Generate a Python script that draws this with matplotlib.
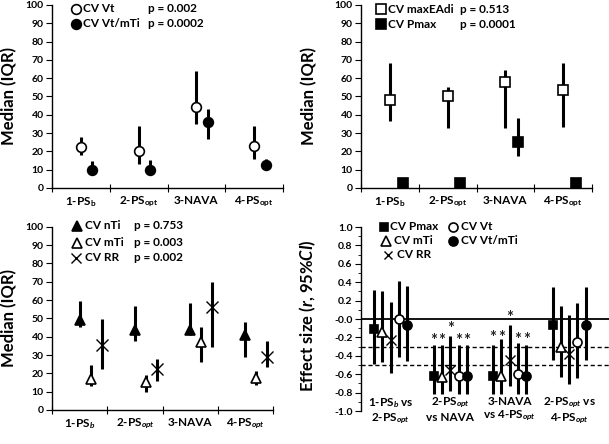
import numpy as np
import matplotlib
matplotlib.use('Agg')
import matplotlib.pyplot as plt
from matplotlib.ticker import FormatStrFormatter, MultipleLocator

plt.rcParams['font.family'] = ['Lato', 'DejaVu Sans']
plt.rcParams['font.weight'] = 'bold'
plt.rcParams['mathtext.fontset'] = 'custom'
plt.rcParams['mathtext.rm'] = 'Lato:bold'
plt.rcParams['mathtext.it'] = 'Lato:italic:bold'
plt.rcParams['mathtext.bf'] = 'Lato:bold'
plt.rcParams['axes.unicode_minus'] = False

# ---- data ----
cats_up = ['1-PS$_{\\mathrm{b}}$', '2-PS$_{\\mathrm{opt}}$', '3-NAVA', '4-PS$_{\\mathrm{opt}}$']
cats_it = ['1-PS$_{b}$', '2-PS$_{opt}$', '3-NAVA', '4-PS$_{opt}$']
cats_es = ['1-PS$_{b}$ vs\n2-PS$_{opt}$', '2-PS$_{opt}$\nvs NAVA',
           '3-NAVA\nvs 4-PS$_{opt}$', '2-PS$_{opt}$ vs\n4-PS$_{opt}$']

# top left: CV Vt, CV Vt/mTi  (median, q1, q3)
vt_med = [22.5, 20, 44, 23]
vt_q1 = [18, 13, 35, 16]
vt_q3 = [28, 34, 64, 34]
vtmti_med = [10, 10, 36, 12.5]
vtmti_q1 = [7.5, 7.5, 26.5, 10]
vtmti_q3 = [15, 15.5, 43, 16]

# top right: CV maxEAdi, CV Pmax
eadi_med = [48, 50, 58, 53.5]
eadi_q1 = [36.5, 33, 33, 33.5]
eadi_q3 = [68.5, 55, 64.5, 68.5]
pmax_med = [2.5, 2.5, 25, 2.5]
pmax_q1 = [2, 2, 17.5, 1.5]
pmax_q3 = [3, 3, 38.5, 5.5]

# bottom left: CV nTi, CV mTi, CV RR
nti_med = [49.3, 43.8, 43.5, 41]
nti_q1 = [45.2, 37.5, 41, 28.7]
nti_q3 = [59.5, 57, 58.4, 47.8]
mti_med = [17, 15.1, 36.9, 17.4]
mti_q1 = [13.3, 9.7, 26.4, 13.6]
mti_q3 = [24.3, 19.3, 45.4, 21.4]
rr_med = [35.2, 22.5, 56, 29]
rr_q1 = [22.5, 16, 34.5, 23.6]
rr_q3 = [49.8, 27.9, 70, 37.4]

# bottom right: effect size r (95% CI)
pmax_r = [-0.11, -0.62, -0.62, -0.07]
pmax_lo = [-0.49, -0.82, -0.82, -0.45]
pmax_hi = [0.32, -0.28, -0.28, 0.35]
mti_r = [-0.14, -0.63, -0.62, -0.30]
mti_lo = [-0.47, -0.82, -0.82, -0.63]
mti_hi = [0.30, -0.28, -0.22, 0.14]
rr_r = [-0.23, -0.55, -0.45, -0.38]
rr_lo = [-0.59, -0.78, -0.73, -0.71]
rr_hi = [0.19, -0.19, -0.07, 0.04]
vt_r = [0.0, -0.62, -0.60, -0.25]
vt_lo = [-0.41, -0.82, -0.82, -0.64]
vt_hi = [0.41, -0.28, -0.26, 0.17]
vtmti_r = [-0.06, -0.62, -0.62, -0.06]
vtmti_lo = [-0.46, -0.82, -0.82, -0.45]
vtmti_hi = [0.36, -0.28, -0.28, 0.35]

# significance stars: comparison, series index, height
star_cmp = [2, 2, 2, 2, 2, 3, 3, 3, 3, 3]
star_series = [0, 1, 2, 3, 4, 0, 1, 2, 3, 4]
star_y = [-0.20, -0.20, -0.07, -0.20, -0.20, -0.17, -0.17, 0.05, -0.19, -0.19]

x = np.arange(1, 5)

fig = plt.figure(figsize=(6.09, 4.44), dpi=100)
ax_tl = fig.add_axes([0.0854, 0.5766, 0.3793, 0.4122])
ax_tr = fig.add_axes([0.5928, 0.5766, 0.3793, 0.4122])
ax_bl = fig.add_axes([0.0854, 0.0766, 0.3629, 0.4128])
ax_br = fig.add_axes([0.5928, 0.0743, 0.4072, 0.4144])


def iqr(ax, xs, med, lo, hi, marker, face, ms, mew=1.2, lw=2.2):
    med = np.array(med)
    ax.errorbar(xs, med, yerr=[med - np.array(lo), np.array(hi) - med],
                fmt=marker, mfc=face, mec='black', color='black', ms=ms, mew=mew,
                ecolor='black', elinewidth=lw, capsize=0, zorder=3, clip_on=False)


def median_axes(ax, labels, ylab_x):
    ax.set_xlim(0.5, 4.5)
    ax.set_ylim(0, 100)
    ax.set_yticks(np.arange(0, 101, 10))
    ax.set_xticks(np.arange(0.5, 4.6, 1))
    ax.set_xticks(x, labels, minor=True)
    ax.tick_params(axis='x', which='major', length=6, direction='inout', labelbottom=False)
    ax.tick_params(axis='x', which='minor', length=0, pad=5, labelsize=8.5)
    ax.tick_params(axis='y', length=4, pad=2, labelsize=7.5)
    for s in ['top', 'right']:
        ax.spines[s].set_visible(False)
    for s in ['left', 'bottom']:
        ax.spines[s].set_linewidth(1.0)
    ax.set_ylabel('Median (IQR)', fontsize=12, fontweight='bold')
    ax.yaxis.set_label_coords(ylab_x, 0.5)


def legend_row(ax, mx, tx, y, marker, face, ms, label, px=None, ptext=None, mew=1.2):
    ax.plot([mx], [y], marker=marker, mfc=face, mec='black', ms=ms, mew=mew,
            color='black', transform=ax.transAxes, clip_on=False, ls='none')
    ax.text(tx, y, label, transform=ax.transAxes, fontsize=8.5, va='center', ha='left')
    if ptext is not None:
        ax.text(px, y, ptext, transform=ax.transAxes, fontsize=8.5, va='center', ha='left')


# top left
iqr(ax_tl, x, vt_med, vt_q1, vt_q3, 'o', 'white', 7)
iqr(ax_tl, x + 0.2, vtmti_med, vtmti_q1, vtmti_q3, 'o', 'black', 7)
median_axes(ax_tl, cats_up, -0.152)
legend_row(ax_tl, 0.104, 0.135, 0.980, 'o', 'white', 7, 'CV Vt', 0.417, 'p = 0.002')
legend_row(ax_tl, 0.104, 0.135, 0.898, 'o', 'black', 7, 'CV Vt/mTi', 0.417, 'p = 0.0002')

# top right
iqr(ax_tr, x, eadi_med, eadi_q1, eadi_q3, 's', 'white', 7)
iqr(ax_tr, x + 0.22, pmax_med, pmax_q1, pmax_q3, 's', 'black', 7)
median_axes(ax_tr, cats_up, -0.188)
legend_row(ax_tr, 0.085, 0.116, 0.977, 's', 'white', 6.5, 'CV maxEAdi', 0.429, 'p = 0.513')
legend_row(ax_tr, 0.085, 0.116, 0.896, 's', 'black', 6.5, 'CV Pmax', 0.429, 'p = 0.0001')

# bottom left
iqr(ax_bl, x, nti_med, nti_q1, nti_q3, '^', 'black', 7)
iqr(ax_bl, x + 0.2, mti_med, mti_q1, mti_q3, '^', 'white', 7)
iqr(ax_bl, x + 0.4, rr_med, rr_q1, rr_q3, 'x', 'black', 8, mew=1.0)
median_axes(ax_bl, cats_it, -0.158)
legend_row(ax_bl, 0.114, 0.149, 1.004, '^', 'black', 7, 'CV nTi', 0.373, 'p = 0.753')
legend_row(ax_bl, 0.114, 0.149, 0.913, '^', 'white', 7, 'CV mTi', 0.373, 'p = 0.003')
legend_row(ax_bl, 0.108, 0.149, 0.831, 'x', 'black', 7, 'CV RR', 0.373, 'p = 0.002', mew=1.0)

# bottom right
offs = [-0.28, -0.14, 0.0, 0.14, 0.28]
iqr(ax_br, x + offs[0], pmax_r, pmax_lo, pmax_hi, 's', 'black', 6)
iqr(ax_br, x + offs[1], mti_r, mti_lo, mti_hi, '^', 'white', 6.5)
iqr(ax_br, x + offs[2], rr_r, rr_lo, rr_hi, 'x', 'black', 7, mew=1.0)
iqr(ax_br, x + offs[3], vt_r, vt_lo, vt_hi, 'o', 'white', 6.5)
iqr(ax_br, x + offs[4], vtmti_r, vtmti_lo, vtmti_hi, 'o', 'black', 6.5)
for c, s, yy in zip(star_cmp, star_series, star_y):
    ax_br.text(c + offs[s], yy - 0.09, '*', ha='center', va='baseline', fontsize=12,
               fontweight='bold', color='#222222')
ax_br.axhline(0, color='black', lw=1.3, zorder=1)
ax_br.axhline(-0.3, color='black', lw=1.0, ls=(0, (3, 2)), zorder=1)
ax_br.axhline(-0.5, color='black', lw=1.0, ls=(0, (3, 2)), zorder=1)
ax_br.set_xlim(0.5, 4.67)
ax_br.set_ylim(-1, 1)
ax_br.set_yticks(np.arange(-1, 1.01, 0.2))
ax_br.yaxis.set_minor_locator(MultipleLocator(0.1))
ax_br.yaxis.set_major_formatter(FormatStrFormatter('%.1f'))
ax_br.set_xticks(x, cats_es)
ax_br.tick_params(axis='x', length=0, pad=-11, labelsize=8.5)
ax_br.tick_params(axis='y', which='major', length=4, pad=2, labelsize=7.5)
ax_br.tick_params(axis='y', which='minor', length=2.5)
for s in ['top', 'right', 'bottom']:
    ax_br.spines[s].set_visible(False)
ax_br.spines['left'].set_linewidth(1.0)
ax_br.set_ylabel('Effect size ($r$, 95%$CI$)', fontsize=12, fontweight='bold')
ax_br.yaxis.set_label_coords(-0.173, 0.518)


def bx(px):
    return (px - 361) / 248.0


legend_row(ax_br, bx(384), bx(390), 1.002, 's', 'black', 6, 'CV Pmax')
legend_row(ax_br, bx(386), bx(393.5), 0.926, '^', 'white', 6.5, 'CV mTi')
legend_row(ax_br, bx(388), bx(397), 0.848, 'x', 'black', 6, 'CV RR', mew=1.0)
legend_row(ax_br, bx(453.3), bx(460.5), 1.002, 'o', 'white', 6.5, 'CV Vt')
legend_row(ax_br, bx(453.3), bx(460.5), 0.926, 'o', 'black', 6.5, 'CV Vt/mTi')

fig.savefig('out.png', dpi=100)
